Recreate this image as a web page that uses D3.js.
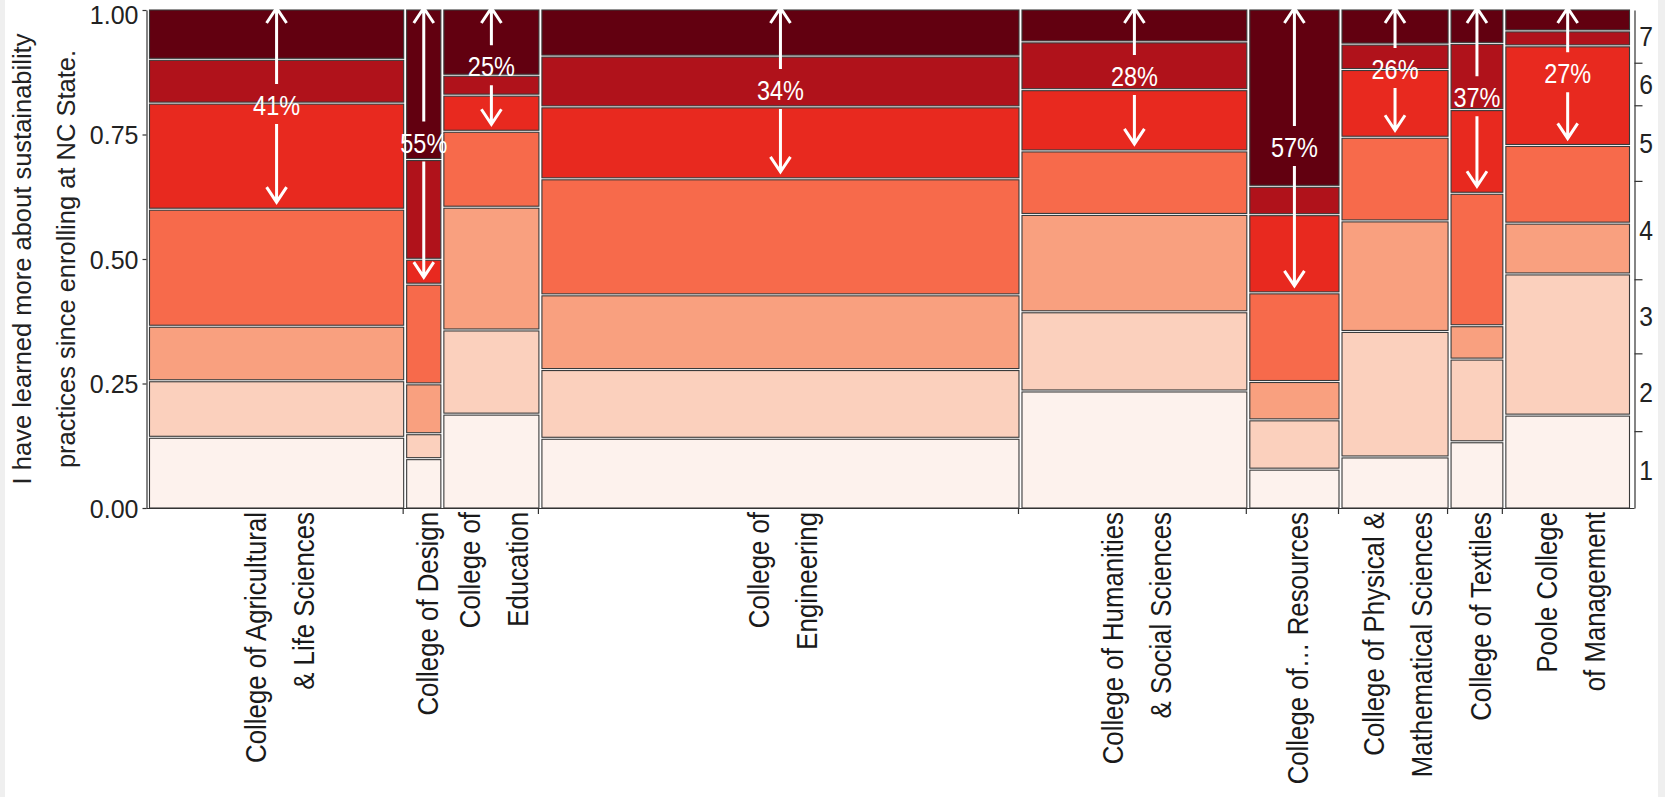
<!DOCTYPE html>
<html><head><meta charset="utf-8">
<script src="https://cdn.jsdelivr.net/npm/d3@7"></script>
<style>
html,body{margin:0;padding:0;background:#fff;}
svg{display:block;}
text{font-family:"Liberation Sans", Arial, Helvetica, sans-serif;}
</style></head><body>
<svg id="chart" width="1665" height="797"></svg>
<script>
// ---------- data ----------
const colleges = [
  "College of Agricultural & Life Sciences", "College of Design", "College of Education",
  "College of Engineering", "College of Humanities & Social Sciences", "College of… Resources",
  "College of Physical & Mathematical Sciences", "College of Textiles", "Poole College of Management"
];
const collegeLabelLines = [
  ["College of Agricultural", "& Life Sciences"],
  ["College of Design"],
  ["College of", "Education"],
  ["College of", "Engineering"],
  ["College of Humanities", "& Social Sciences"],
  ["College of…  Resources"],
  ["College of Physical &", "Mathematical Sciences"],
  ["College of Textiles"],
  ["Poole College", "of Management"]
];
// share of respondents per college (column widths, %)
const collegeShare = [17.4, 2.4, 6.55, 32.6, 15.4, 6.15, 7.3, 3.6, 8.5];
// share of answers per agreement level (1 = lowest ... 7 = highest), % within college
const resp1 = [14.2, 9.9, 18.85, 14.0, 23.5, 7.8, 10.25, 13.3, 18.65];
const resp2 = [11.35, 5.0, 16.9, 13.8, 15.9, 9.9, 25.2, 16.6, 28.35];
const resp3 = [10.95, 10.0, 24.65, 15.0, 19.55, 7.7, 22.2, 6.7, 10.2];
const resp4 = [23.5, 20.0, 15.25, 23.3, 12.75, 17.8, 16.8, 26.6, 15.6];
const resp5 = [21.3, 5.0, 7.25, 14.45, 12.3, 15.7, 13.6, 16.8, 20.0];
const resp6 = [8.8, 20.0, 4.0, 10.2, 9.6, 5.7, 5.1, 13.3, 3.0];
const resp7 = [9.9, 30.0, 13.1, 9.25, 6.4, 35.4, 6.85, 6.7, 4.2];
const levels = ["1", "2", "3", "4", "5", "6", "7"];
const agreeLabels = ["41%", "55%", "25%", "34%", "28%", "57%", "26%", "37%", "27%"];
const yTicks = [0, 0.25, 0.5, 0.75, 1];
const levelColors = ["#fdf2ed", "#fbd0bd", "#f9a07f", "#f76a4b", "#e8291f", "#b0121b", "#620010"];

// ---------- layout ----------
const W = 1665, H = 797;
const svg = d3.select("#chart");
svg.append("rect").attr("width", W).attr("height", H).attr("fill", "#efefef");
svg.append("rect").attr("x", 5).attr("width", 1653).attr("height", H).attr("fill", "#fff");

const plotLeft = 149, plotRight = 1630, colGap = 2;
const axisLeftX = 146.5, axisRightX = 1634.5;
const y = d3.scaleLinear().domain([0, 1]).range([508, 10]);
const responses = [resp1, resp2, resp3, resp4, resp5, resp6, resp7];
const totalShare = d3.sum(collegeShare);
const xw = d3.scaleLinear().domain([0, totalShare])
  .range([0, plotRight - plotLeft - (colleges.length - 1) * colGap]);

let run = 0;
const cols = colleges.map((name, i) => {
  const x0 = plotLeft + xw(run) + i * colGap;
  run += collegeShare[i];
  const x1 = plotLeft + xw(run) + i * colGap;
  const vals = responses.map(r => r[i]);
  const s = d3.sum(vals);
  let c = 0;
  const segs = vals.map((v, k) => { const lo = c; c += v / s; return { k, lo, hi: k === 6 ? 1 : c }; });
  return { name, i, x0, x1, cx: (x0 + x1) / 2, segs, s };
});

// ---------- mosaic rectangles ----------
const gCols = svg.append("g").selectAll("g").data(cols).join("g");
gCols.selectAll("rect").data(d => d.segs.map(s => ({ ...s, x0: d.x0, x1: d.x1 }))).join("rect")
  .attr("x", d => d.x0 + 0.5)
  .attr("width", d => d.x1 - d.x0 - 1)
  .attr("y", d => d.k === 6 ? y(1) : y(d.hi) + 1)
  .attr("height", d => (d.k === 0 ? y(0) : y(d.lo) - 1) - (d.k === 6 ? y(1) : y(d.hi) + 1))
  .attr("fill", d => levelColors[d.k])
  .attr("stroke", "#3a3a3a")
  .attr("stroke-width", 1.1);

// ---------- left axis ----------
const gy = svg.append("g").attr("transform", `translate(${axisLeftX},0)`)
  .call(d3.axisLeft(y).tickValues(yTicks).tickFormat(d3.format(".2f")).tickSize(4).tickSizeOuter(0));
gy.attr("font-size", null).attr("font-family", null);
gy.select(".domain").attr("stroke", "#333").attr("stroke-width", 1.2);
gy.selectAll(".tick line").attr("stroke", "#333").attr("stroke-width", 1.2);
gy.selectAll(".tick text").attr("font-size", 25).attr("fill", "#222").attr("x", -8)
  .attr("dy", d => d === 1 ? "0.52em" : "0.36em");

// y title
const yTitle = ["I have learned more about sustainability", "practices since enrolling at NC State."];
svg.append("g").selectAll("text").data(yTitle).join("text")
  .attr("transform", (d, i) => `translate(${31 + i * 44},${y(0.5)}) rotate(-90)`)
  .attr("text-anchor", "middle")
  .attr("font-size", 25.5)
  .attr("fill", "#222")
  .text(d => d);

// ---------- bottom axis ----------
svg.append("line").attr("x1", axisLeftX).attr("x2", axisRightX)
  .attr("y1", y(0) + 0.5).attr("y2", y(0) + 0.5).attr("stroke", "#333").attr("stroke-width", 1.2);
// ticks at column boundaries (the reference shows none after the narrow Design column)
svg.append("g").selectAll("line").data(cols.slice(0, -1).filter(d => d.i !== 1)).join("line")
  .attr("x1", d => d.x1 - 1).attr("x2", d => d.x1 - 1)
  .attr("y1", y(0)).attr("y2", y(0) + 6)
  .attr("stroke", "#333").attr("stroke-width", 1.2);

// x labels
const gx = svg.append("g");
cols.forEach(c => {
  const lines = collegeLabelLines[c.i];
  const offs = lines.length === 1 ? [5] : [-20, 28];
  lines.forEach((t, j) => {
    gx.append("text")
      .attr("transform", `translate(${c.cx + offs[j] + 9},512) rotate(-90) scale(0.86,1)`)
      .attr("text-anchor", "end")
      .attr("font-size", 30)
      .attr("fill", "#1a1a1a")
      .text(t);
  });
});

// ---------- right axis (overall distribution) ----------
const overall = responses.map(r => d3.sum(r.map((v, i) => v / cols[i].s * collegeShare[i])) / totalShare);
const overallCum = d3.cumsum(overall);
const bounds = Array.from(overallCum).slice(0, 6);
const gr = svg.append("g").attr("transform", `translate(${axisRightX},0)`)
  .call(d3.axisRight(y).tickValues(bounds).tickFormat("").tickSize(8).tickSizeOuter(0));
gr.select(".domain").attr("stroke", "#333").attr("stroke-width", 1.2);
gr.selectAll(".tick line").attr("stroke", "#333").attr("stroke-width", 1.2);
svg.append("g").selectAll("text").data(levels).join("text")
  .attr("transform", (d, k) => `translate(1646,${y((k === 0 ? 0 : overallCum[k - 1]) / 2 + overallCum[k] / 2)}) scale(0.88,1)`)
  .attr("dy", "0.36em")
  .attr("text-anchor", "middle")
  .attr("font-size", 28)
  .attr("fill", "#222")
  .text(d => d);

// ---------- agreement arrows and labels ----------
const ga = svg.append("g");
cols.forEach(c => {
  const topTip = y(1) - 2;
  const botTip = y(c.segs[3].hi) - 7;
  const mid = (topTip + botTip) / 2;
  const x = c.cx;
  const path = d3.path();
  path.moveTo(x, topTip); path.lineTo(x, mid - 21);
  path.moveTo(x, mid + 19); path.lineTo(x, botTip);
  path.moveTo(x - 10, topTip + 15); path.lineTo(x, topTip); path.lineTo(x + 10, topTip + 15);
  path.moveTo(x - 10, botTip - 15); path.lineTo(x, botTip); path.lineTo(x + 10, botTip - 15);
  ga.append("path").attr("d", path.toString())
    .attr("fill", "none").attr("stroke", "#fff").attr("stroke-width", 3)
    .attr("stroke-linejoin", "miter");
  ga.append("text")
    .attr("transform", `translate(${x},${mid}) scale(0.84,1)`)
    .attr("dy", "0.36em")
    .attr("text-anchor", "middle")
    .attr("font-size", 28)
    .attr("fill", "#fff")
    .text(agreeLabels[c.i]);
});
</script>
</body></html>
